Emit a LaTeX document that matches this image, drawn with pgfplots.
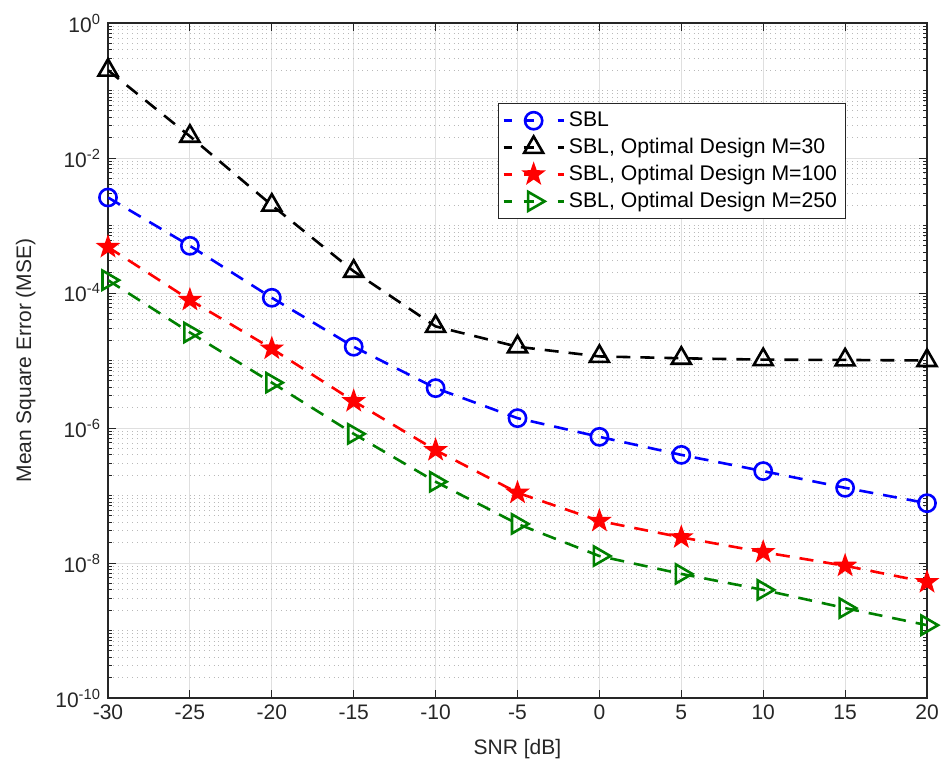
\documentclass[border=0pt]{standalone}
\usepackage{fontspec}
\setmainfont{Liberation Sans}
\usepackage{pgfplots}
\pgfplotsset{compat=1.18}
\usetikzlibrary{plotmarks}

\definecolor{mgreen}{RGB}{0,128,0}
\definecolor{axgray}{RGB}{38,38,38}

% five-pointed star (MATLAB pentagram)
\pgfdeclareplotmark{pentastar}{%
  \pgfpathmoveto{\pgfpointpolar{90}{\pgfplotmarksize}}%
  \pgfpathlineto{\pgfpointpolar{126}{0.4\pgfplotmarksize}}%
  \pgfpathlineto{\pgfpointpolar{162}{\pgfplotmarksize}}%
  \pgfpathlineto{\pgfpointpolar{198}{0.4\pgfplotmarksize}}%
  \pgfpathlineto{\pgfpointpolar{234}{\pgfplotmarksize}}%
  \pgfpathlineto{\pgfpointpolar{270}{0.4\pgfplotmarksize}}%
  \pgfpathlineto{\pgfpointpolar{306}{\pgfplotmarksize}}%
  \pgfpathlineto{\pgfpointpolar{342}{0.4\pgfplotmarksize}}%
  \pgfpathlineto{\pgfpointpolar{18}{\pgfplotmarksize}}%
  \pgfpathlineto{\pgfpointpolar{54}{0.4\pgfplotmarksize}}%
  \pgfpathclose
  \pgfusepathqfillstroke}

\begin{document}
\begin{tikzpicture}
\begin{axis}[
    scale only axis,
    width=409.5pt, height=337.5pt,
    ymode=log,
    xmin=-30, xmax=20,
    ymin=1e-10, ymax=1,
    xtick={-30,-25,...,20},
    xticklabels={-30,-25,-20,-15,-10,-5,0,5,10,15,20},
    ytick={1e-10,1e-8,1e-6,1e-4,1e-2,1},
    yticklabels={10\textsuperscript{-10},10\textsuperscript{-8},10\textsuperscript{-6},10\textsuperscript{-4},10\textsuperscript{-2},10\textsuperscript{0}},
    minor ytick={2e-10,3e-10,4e-10,5e-10,6e-10,7e-10,8e-10,9e-10,
                 1e-9,2e-9,3e-9,4e-9,5e-9,6e-9,7e-9,8e-9,9e-9,
                 2e-8,3e-8,4e-8,5e-8,6e-8,7e-8,8e-8,9e-8,
                 1e-7,2e-7,3e-7,4e-7,5e-7,6e-7,7e-7,8e-7,9e-7,
                 2e-6,3e-6,4e-6,5e-6,6e-6,7e-6,8e-6,9e-6,
                 1e-5,2e-5,3e-5,4e-5,5e-5,6e-5,7e-5,8e-5,9e-5,
                 2e-4,3e-4,4e-4,5e-4,6e-4,7e-4,8e-4,9e-4,
                 1e-3,2e-3,3e-3,4e-3,5e-3,6e-3,7e-3,8e-3,9e-3,
                 2e-2,3e-2,4e-2,5e-2,6e-2,7e-2,8e-2,9e-2,
                 1e-1,2e-1,3e-1,4e-1,5e-1,6e-1,7e-1,8e-1,9e-1},
    tick label style={font=\fontsize{10.5}{12}\selectfont, text=axgray},
    label style={font=\fontsize{10.5}{12}\selectfont, text=axgray},
    xlabel={SNR [dB]},
    ylabel={Mean Square Error (MSE)},
    xlabel style={yshift=-3pt},
    ylabel style={yshift=3pt},
    axis line style={axgray, line width=0.6pt},
    tick style={axgray, line width=0.5pt},
    tick align=inside,
    major tick length=4pt,
    minor tick length=2pt,
    grid=both,
    major grid style={gray!25, line width=0.5pt},
    minor grid style={gray!55, dotted, line width=0.45pt},
    legend style={at={(0.476,0.881)}, anchor=north west,
        font=\fontsize{10.6}{12.4}\selectfont, draw=axgray, line width=0.5pt,
        row sep=0.3pt, inner sep=2pt, cells={anchor=west}},
    legend cell align=left,
    legend image code/.code={%
        \draw[mark repeat=2, mark phase=2, dash pattern=on 4pt off 6pt on 5pt off 12pt on 5pt off 1pt]
            plot coordinates {(0pt,0pt) (15pt,0pt) (30pt,0pt)};},
    every axis plot/.append style={line width=1.3pt, dash pattern=on 7pt off 5pt},
]
\coordinate (sw) at (rel axis cs:0,0);
\coordinate (ne) at (rel axis cs:1,1);

\addplot[blue, mark=o, mark size=4.3pt, mark options={solid}] coordinates {
    (-30,2.6e-3) (-25,5.0e-4) (-20,8.5e-5) (-15,1.6e-5) (-10,3.9e-6)
    (-5,1.4e-6) (0,7.4e-7) (5,4.0e-7) (10,2.3e-7) (15,1.3e-7) (20,7.7e-8)
};
\addlegendentry{SBL}

\addplot[black, mark=triangle, mark size=5.5pt, mark options={solid}] coordinates {
    (-30,2.0e-1) (-25,2.1e-2) (-20,2.0e-3) (-15,2.1e-4) (-10,3.2e-5)
    (-5,1.6e-5) (0,1.15e-5) (5,1.08e-5) (10,1.03e-5) (15,1.02e-5) (20,1.0e-5)
};
\addlegendentry{SBL, Optimal Design M=30}

\addplot[red, mark=pentastar, mark size=4.5pt, mark options={solid, fill=red}] coordinates {
    (-30,4.8e-4) (-25,7.9e-5) (-20,1.5e-5) (-15,2.5e-6) (-10,4.7e-7)
    (-5,1.1e-7) (0,4.2e-8) (5,2.4e-8) (10,1.45e-8) (15,9.1e-9) (20,5.2e-9)
};
\addlegendentry{SBL, Optimal Design M=100}

\addplot[mgreen, mark=triangle, mark size=5.5pt, mark options={solid, rotate=-90}] coordinates {
    (-30,1.55e-4) (-25,2.6e-5) (-20,4.7e-6) (-15,8.2e-7) (-10,1.6e-7)
    (-5,3.8e-8) (0,1.27e-8) (5,6.9e-9) (10,4.0e-9) (15,2.15e-9) (20,1.2e-9)
};
\addlegendentry{SBL, Optimal Design M=250}
\end{axis}
\pgfresetboundingbox
\path ([shift={(-54pt,-36.5pt)}]sw) rectangle ([shift={(7.5pt,11.5pt)}]ne);
\end{tikzpicture}
\end{document}
